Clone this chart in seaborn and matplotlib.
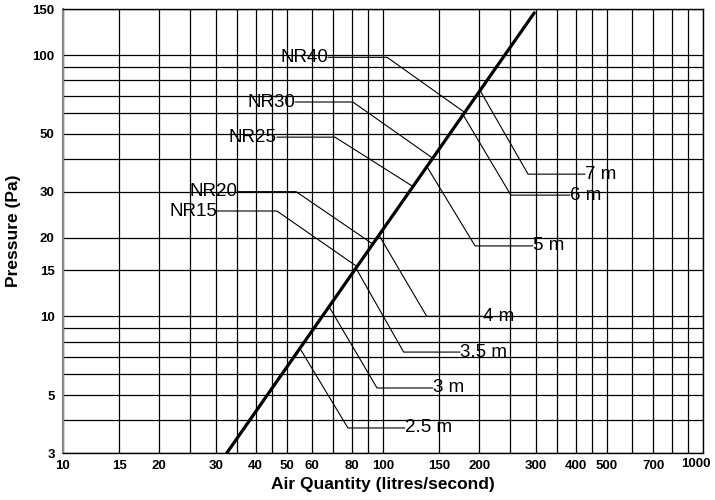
import matplotlib
matplotlib.use("Agg")
import matplotlib.pyplot as plt
import matplotlib.transforms as mtransforms
import seaborn as sns
import pandas as pd

# ---- data ----
air_quantity_line = [32.5, 297]
pressure_line = [3, 145]

x_grid = [10, 15, 20, 25, 30, 35, 40, 45, 50, 60, 70, 80, 90, 100, 150, 200, 250,
          300, 350, 400, 450, 500, 600, 700, 800, 900, 1000]
x_tick_labels = ["10", "15", "20", "", "30", "", "40", "", "50", "60", "", "80", "",
                 "100", "150", "200", "", "300", "", "400", "", "500", "", "700", "", "", "1000"]
y_grid = [3, 4, 5, 6, 7, 8, 9, 10, 15, 20, 30, 40, 50, 60, 70, 80, 90, 100, 150]
y_tick_labels = ["3", "", "5", "", "", "", "", "10", "15", "20", "30", "", "50", "",
                 "", "", "", "100", "150"]

nr_labels = ["NR40", "NR30", "NR25", "NR20", "NR15"]
nr_text_q = [67.3, 53.1, 46.6, 35.0, 30.3]
nr_level_p = [98, 66.1, 48.5, 30, 25.3]
nr_knee_q = [103, 80.5, 70.8, 53.5, 46.6]
nr_end_q = [180, 143, 124, 93, 83]
nr_end_p = [60.3, 40.3, 31.4, 18.9, 15.5]

dist_labels = ["7 m", "6 m", "5 m", "4 m", "3.5 m", "3 m", "2.5 m"]
dist_start_q = [201, 178, 137, 97, 82.3, 67.8, 55.0]
dist_start_p = [73.2, 59.0, 37.5, 20.5, 15.3, 10.9, 7.54]
dist_knee_q = [284, 251, 194, 137, 116, 95.8, 77.7]
dist_level_p = [35.0, 29.1, 18.6, 10, 7.3, 5.32, 3.74]
dist_text_q = [428, 384, 294, 205, 174, 143, 117]

# ---- style ----
sns.set_theme(style="white")
plt.rcParams["font.family"] = ["Liberation Sans", "DejaVu Sans"]

fig = plt.figure(figsize=(7.15, 5), dpi=100)
ax = fig.add_axes([63 / 715, 1 - 453 / 500, 640 / 715, 444 / 500])

ax.set_xscale("log")
ax.set_yscale("log")
ax.set_xlim(10, 1000)
ax.set_ylim(3, 150)

ax.set_xticks(x_grid)
ax.set_xticklabels(x_tick_labels)
ax.set_yticks(y_grid)
ax.set_yticklabels(y_tick_labels)
ax.minorticks_off()
ax.tick_params(axis="both", length=0, labelsize=9.5, colors="black")
ax.tick_params(axis="x", pad=5)
ax.tick_params(axis="y", pad=6)
for lab in ax.get_xticklabels() + ax.get_yticklabels():
    lab.set_fontweight("bold")

# nudge the last x label inward like the reference
last = ax.get_xticklabels()[-1]
last.set_transform(last.get_transform() +
                   mtransforms.ScaledTranslation(-7 / 100, 2 / 100, fig.dpi_scale_trans))

ax.grid(True, which="major", color="black", linewidth=0.9)
ax.set_axisbelow(True)

for side in ["top", "right", "bottom"]:
    ax.spines[side].set_color("black")
    ax.spines[side].set_linewidth(1.0)
ax.spines["left"].set_color("#8a8a8a")
ax.spines["left"].set_linewidth(1.6)

# main characteristic line
df = pd.DataFrame({"q": air_quantity_line, "p": pressure_line})
sns.lineplot(data=df, x="q", y="p", ax=ax, color="black", linewidth=2.3)

# NR leader lines
for lab, tq, lp, kq, eq, ep in zip(nr_labels, nr_text_q, nr_level_p, nr_knee_q, nr_end_q, nr_end_p):
    ax.plot([tq, kq, eq], [lp, lp, ep], color="black", linewidth=0.8)
    ax.text(tq, lp, lab, ha="right", va="center", fontsize=13.5, color="black")

# distance leader lines
for lab, sq, sp, kq, lp, tq in zip(dist_labels, dist_start_q, dist_start_p, dist_knee_q, dist_level_p, dist_text_q):
    ax.plot([sq, kq, tq], [sp, lp, lp], color="black", linewidth=0.8)
    ax.text(tq, lp, lab, ha="left", va="center", fontsize=13.5, color="black")

ax.set_xlabel("Air Quantity (litres/second)", fontsize=12.5, fontweight="bold",
              labelpad=4, color="black")
ax.set_ylabel("Pressure (Pa)", fontsize=12.5, fontweight="bold", labelpad=8, color="black")

fig.savefig("out.png", dpi=100)
